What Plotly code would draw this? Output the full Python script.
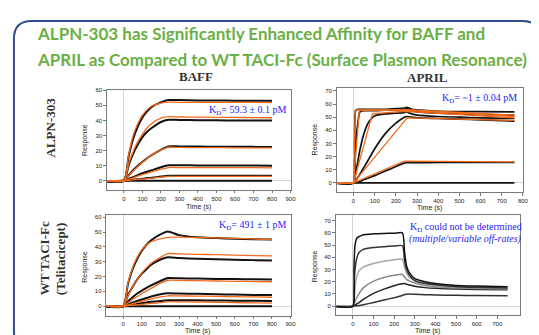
import plotly.graph_objects as go

W, H = 539, 335

# ---------------- data ----------------
# Panel 1: ALPN-303 vs BAFF
P1_T = [-90, 0, 25, 50, 75, 100, 125, 150, 200, 240, 300, 400, 500, 600, 700, 800]
P1_DATA_1 = [-0.3, 0, 16, 28, 36, 42, 46, 49, 52, 53.5, 53.5, 53.3, 53.2, 53.1, 53, 53]
P1_DATA_2 = [-0.3, 0, 10, 18, 24, 29, 32.5, 35, 39, 40.5, 40.3, 40.2, 40.1, 40, 40, 40]
P1_DATA_3 = [-0.3, 0, 3.5, 7, 10, 12.5, 15, 17, 20.5, 22.8, 22.8, 22.7, 22.6, 22.5, 22.5, 22.4]
P1_DATA_4 = [-0.3, 0, 1.2, 2.5, 3.8, 5, 6, 7, 9, 10.3, 10.3, 10.2, 10.2, 10.1, 10.1, 10]
P1_DATA_5 = [-0.3, 0, 0.3, 0.7, 1, 1.4, 1.8, 2.1, 2.8, 3.3, 3.4, 3.4, 3.4, 3.4, 3.4, 3.4]
P1_DATA_0 = [-0.3, 0, 0, 0, 0, 0, 0, 0, 0, 0, 0, 0, 0, 0, 0, 0]
P1_FIT_1 = [0, 0, 17, 30, 38, 43.5, 47, 49.5, 51.5, 52.2, 52, 52, 52, 52, 52, 51.8]
P1_FIT_2 = [0, 0, 11, 19.5, 26, 31, 35, 38, 41.5, 42.5, 42.3, 42.2, 42.1, 42, 41.9, 41.8]
P1_FIT_3 = [0, 0, 3.3, 6.5, 9.5, 12.3, 14.8, 17, 20.3, 22.3, 22.1, 22, 22, 21.9, 21.8, 21.8]
P1_FIT_4 = [0, 0, 1, 2, 3.1, 4.1, 5, 6, 7.7, 8.8, 8.8, 8.8, 8.7, 8.7, 8.7, 8.6]
P1_FIT_5 = [0, 0, 0.3, 0.6, 0.9, 1.2, 1.5, 1.8, 2.4, 2.9, 3, 3, 3, 3, 3, 3]

# Panel 2: ALPN-303 vs APRIL
P2_T = [-80, 0, 5, 10, 20, 30, 50, 75, 100, 150, 200, 240, 250, 275, 300, 400, 500, 600, 760]
P2_DATA_1 = [-0.3, 0, 30, 55, 56, 56, 56, 56, 56, 56, 56.5, 57, 57.5, 56, 55.5, 54.5, 54.3, 54.2, 54]
P2_DATA_2 = [-0.3, 0, 15, 30, 45, 54, 55, 55, 55, 55.3, 55.5, 55.8, 56.5, 55, 54, 53, 52.5, 52, 51.5]
P2_DATA_3 = [-0.3, 0, 3, 7, 16, 25, 38, 47, 51, 52.5, 53, 53.5, 54, 52.5, 51.5, 50.5, 50, 49.5, 49]
P2_DATA_4 = [-0.3, 0, 0.8, 1.8, 4, 6.5, 12, 19, 26, 37.5, 45.5, 50, 50.5, 50, 49.5, 49, 48.5, 48, 47]
P2_DATA_5 = [-0.3, 0, 0.1, 0.3, 0.6, 1, 2.5, 4, 5.5, 9, 12.5, 15, 15.3, 15.3, 15.4, 15.5, 15.5, 15.5, 15.5]
P2_DATA_0 = [-0.3, 0, 0, 0, 0, 0, 0, 0, 0, 0, 0, 0, 0, 0, 0, 0, 0, 0, 0]
P2_FIT_1_T = [-80, 0, 8, 240, 250, 760]
P2_FIT_1 = [0, 0, 55.5, 56, 55.8, 51.5]
P2_FIT_2_T = [-80, 0, 27, 240, 760]
P2_FIT_2 = [0, 0, 55, 55.5, 50.5]
P2_FIT_3_T = [-80, 0, 89, 240, 760]
P2_FIT_3 = [0, 0, 52.5, 54.5, 49.5]
P2_FIT_4_T = [-80, 0, 253, 760]
P2_FIT_4 = [0, 0, 49.5, 47.5]
P2_FIT_5_T = [-80, 0, 240, 760]
P2_FIT_5 = [0, 0, 16.5, 16]

# Panel 3: WT TACI-Fc vs BAFF
P3_T = P1_T
P3_DATA_1 = [-0.3, 0, 15, 25, 32, 37.5, 41.5, 44.5, 48.5, 50.5, 48, 46.5, 46, 45.5, 45.2, 45]
P3_DATA_2 = [-0.3, 0, 7.5, 13, 18, 22, 25, 28, 31.5, 33, 32.5, 32, 31.7, 31.4, 31.1, 30.8]
P3_DATA_3 = [-0.3, 0, 3.2, 6, 8.5, 10.5, 12.3, 14, 17, 19, 18.8, 18.6, 18.4, 18.3, 18.1, 18]
P3_DATA_4 = [-0.3, 0, 1.2, 2.5, 3.5, 4.5, 5.5, 6.5, 8, 8.7, 8.5, 8.3, 8, 7.8, 7.6, 7.5]
P3_DATA_5 = [-0.3, 0, 0.5, 1, 1.5, 2, 2.5, 2.9, 3.5, 4, 4, 3.9, 3.8, 3.7, 3.6, 3.5]
P3_DATA_0 = P1_DATA_0
P3_FIT_1 = [0, 0, 15.5, 26, 33, 38, 41.5, 43.5, 45.5, 46.5, 46.6, 46.4, 46.1, 45.8, 45.4, 45]
P3_FIT_2 = [0, 0, 7, 13, 18, 22.5, 26, 29, 33, 35.5, 35.3, 35, 34.8, 34.5, 34.2, 34]
P3_FIT_3 = [0, 0, 2.2, 4.5, 6.5, 8.5, 10.3, 12, 15.5, 17.5, 17.4, 17.2, 17, 16.8, 16.6, 16.5]
P3_FIT_4 = [0, 0, 0.8, 1.7, 2.5, 3.3, 4, 4.8, 6.2, 7, 6.9, 6.8, 6.6, 6.4, 6.2, 6]
P3_FIT_5 = [0, 0, 0.3, 0.6, 0.9, 1.2, 1.5, 1.8, 2.4, 3, 2.9, 2.8, 2.6, 2.4, 2.2, 2]

# Panel 4: WT TACI-Fc vs APRIL
P4_T = [-80, 0, 5, 10, 20, 30, 50, 100, 150, 200, 240, 250, 260, 275, 300, 350, 400, 500, 600, 750]
P4_DATA_1 = [-0.3, 0, 30, 50, 56, 57, 58.5, 59.2, 59.5, 59.7, 60, 45, 33, 27, 22.5, 20, 18.5, 17, 16.5, 16]
P4_DATA_2 = [-0.3, 0, 15, 30, 40, 44, 46.5, 48, 48.7, 49.2, 49.5, 38, 30, 25, 21, 18.5, 17.5, 16, 15.5, 15]
P4_DATA_3 = [-0.3, 0, 8, 16, 25, 29, 32, 35, 36.8, 38, 38.5, 32, 27, 23.5, 21, 19, 17.5, 16, 15.5, 15]
P4_DATA_4 = [-0.3, 0, 2, 4, 7.5, 10.5, 15, 20.5, 23.5, 25.3, 26, 24, 22, 20.5, 19, 17, 16, 15, 14.5, 14]
P4_DATA_5 = [-0.3, 0, 0.5, 1, 2, 3, 5.5, 10.5, 14, 16.8, 18.3, 18.5, 18, 17.3, 16.3, 15.2, 14.6, 14, 13.7, 13.5]
P4_DATA_6 = [-0.3, 0, 0.1, 0.2, 0.4, 0.6, 1.2, 3, 5, 7, 8.8, 9.5, 9.8, 9.9, 9.7, 9.4, 9.2, 8.9, 8.7, 8.5]

P1_XTICKS = [0, 100, 200, 300, 400, 500, 600, 700, 800, 900]
P2_XTICKS = [0, 100, 200, 300, 400, 500, 600, 700, 800]
P4_XTICKS = [0, 100, 200, 300, 400, 500, 600, 700]
Y60_TICKS = [0, 10, 20, 30, 40, 50, 60]
Y70_TICKS = [0, 10, 20, 30, 40, 50, 60, 70]

TITLE_1 = "ALPN-303 has Significantly Enhanced Affinity for BAFF and"
TITLE_2 = "APRIL as Compared to WT TACI-Fc (Surface Plasmon Resonance)"
KD_1 = "K<sub>D</sub>= 59.3 ± 0.1 pM"
KD_2 = "K<sub>D</sub>= ~1 ± 0.04 pM"
KD_3 = "K<sub>D</sub>= 491 ± 1 pM"
KD_4A = "K<sub>D</sub> could not be determined"
KD_4B = "<i>(multiple/variable off-rates)</i>"

# ---------------- helpers ----------------
def px(x):
    return x / W

def py(y):
    return 1 - y / H

BLACK = "#111111"
ORANGE = "#F26B1D"
BLUE = "#2424F0"
GREEN = "#6BAF45"
SANS = "Liberation Sans, Arial, sans-serif"
SERIF = "Liberation Serif, Times New Roman, serif"

fig = go.Figure()

def add(t, y, ax, color, width):
    fig.add_trace(go.Scatter(x=t, y=y, mode="lines", xaxis="x" + ax, yaxis="y" + ax,
                             line=dict(color=color, width=width, shape="spline", smoothing=0.6),
                             hoverinfo="skip", showlegend=False))

def addlin(t, y, ax, color, width):
    fig.add_trace(go.Scatter(x=t, y=y, mode="lines", xaxis="x" + ax, yaxis="y" + ax,
                             line=dict(color=color, width=width),
                             hoverinfo="skip", showlegend=False))

# Panel 1
for d in [P1_DATA_0, P1_DATA_1, P1_DATA_2, P1_DATA_3, P1_DATA_4, P1_DATA_5]:
    add(P1_T, d, "", BLACK, 2.0)
for f in [P1_FIT_1, P1_FIT_2, P1_FIT_3, P1_FIT_4, P1_FIT_5]:
    add(P1_T, f, "", ORANGE, 1.3)

# Panel 2
for d in [P2_DATA_0, P2_DATA_1, P2_DATA_2, P2_DATA_3, P2_DATA_4, P2_DATA_5]:
    add(P2_T, d, "2", BLACK, 1.7)
for t, f in [(P2_FIT_1_T, P2_FIT_1), (P2_FIT_2_T, P2_FIT_2), (P2_FIT_3_T, P2_FIT_3),
             (P2_FIT_4_T, P2_FIT_4), (P2_FIT_5_T, P2_FIT_5)]:
    addlin(t, f, "2", ORANGE, 1.3)

# Panel 3
for d in [P3_DATA_0, P3_DATA_1, P3_DATA_2, P3_DATA_3, P3_DATA_4, P3_DATA_5]:
    add(P3_T, d, "3", BLACK, 2.0)
for f in [P3_FIT_1, P3_FIT_2, P3_FIT_3, P3_FIT_4, P3_FIT_5]:
    add(P3_T, f, "3", ORANGE, 1.3)

# Panel 4
for d, c in [(P4_DATA_6, "#333333"), (P4_DATA_5, "#222222"), (P4_DATA_4, "#8a8a8a"),
             (P4_DATA_3, "#a8a8a8"), (P4_DATA_2, "#333333"), (P4_DATA_1, "#111111")]:
    add(P4_T, d, "4", c, 1.5)

axis_common = dict(showline=True, mirror=True, linecolor="#7a7a7a", linewidth=1,
                   ticks="outside", ticklen=2.5, tickcolor="#7a7a7a", tickwidth=1,
                   showgrid=False, zeroline=True, zerolinecolor="#d4d4d4", zerolinewidth=1,
                   tickfont=dict(family=SANS, size=6, color="#222222"), fixedrange=True)

layout = dict(width=W, height=H, margin=dict(l=0, r=0, t=0, b=0),
              paper_bgcolor="white", plot_bgcolor="white", showlegend=False)

layout["xaxis"] = dict(axis_common, domain=[px(100), px(285.7)], range=[-92, 900],
                       tickvals=P1_XTICKS, anchor="y")
layout["yaxis"] = dict(axis_common, domain=[py(180.5), py(80)], range=[-6, 60],
                       tickvals=Y60_TICKS, anchor="x")
layout["xaxis2"] = dict(axis_common, domain=[px(332.3), px(520.7)], range=[-80, 800],
                        tickvals=P2_XTICKS, anchor="y2")
layout["yaxis2"] = dict(axis_common, domain=[py(182.7), py(77.3)], range=[-7, 72.5],
                        tickvals=Y70_TICKS, anchor="x2")
layout["xaxis3"] = dict(axis_common, domain=[px(99.3), px(285.7)], range=[-92, 900],
                        tickvals=P1_XTICKS, anchor="y3")
layout["yaxis3"] = dict(axis_common, domain=[py(307.5), py(206)], range=[-6.5, 61.5],
                        tickvals=Y60_TICKS, anchor="x3")
layout["xaxis4"] = dict(axis_common, domain=[px(331.3), px(517.3)], range=[-84, 808],
                        tickvals=P4_XTICKS, anchor="y4")
layout["yaxis4"] = dict(axis_common, domain=[py(307), py(206)], range=[-7.4, 74.5],
                        tickvals=Y70_TICKS, anchor="x4")

ann = []
def text(x, y, s, size, color="#000000", family=SANS, xanchor="center", angle=0, bold=False):
    ann.append(dict(x=px(x), y=py(y), xref="paper", yref="paper", text=("<b>%s</b>" % s) if bold else s,
                    showarrow=False, xanchor=xanchor, yanchor="middle", textangle=angle,
                    font=dict(family=family, size=size, color=color)))

text(27, 23, TITLE_1, 17, GREEN, "Lato, Open Sans, sans-serif", "left", bold=True)
text(27, 49, TITLE_2, 17, GREEN, "Lato, Open Sans, sans-serif", "left", bold=True)
text(190, 66, "BAFF", 13, "#333333", SERIF, bold=True)
text(424, 67, "APRIL", 13, "#333333", SERIF, bold=True)
text(43, 118, "ALPN-303", 13, "#333333", SERIF, angle=-90, bold=True)
text(37, 250, "WT TACI-Fc", 13, "#333333", SERIF, angle=-90, bold=True)
text(53, 250, "(Telitacicept)", 13, "#333333", SERIF, angle=-90, bold=True)

for (x, y) in [(78, 130), (310, 130), (78, 258), (310, 258)]:
    text(x, y, "Response", 7, "#222222", SANS, angle=-90)
for (x, y) in [(193, 198), (426, 199), (192, 323), (424, 323)]:
    text(x, y, "Time (s)", 7, "#222222", SANS)

text(283, 100, KD_1, 10, BLUE, SERIF, "right")
text(517, 88, KD_2, 10, BLUE, SERIF, "right")
text(283, 216, KD_3, 10, BLUE, SERIF, "right")
text(463, 218, KD_4A, 10, BLUE, SERIF)
text(463, 230, KD_4B, 10, BLUE, SERIF)
layout["annotations"] = ann

# rounded slide border
x0, x1, y0, y1, r = 6, 538, 10, 341, 18
path = (f"M {px(x0+r)},{py(y0)} L {px(x1-r)},{py(y0)} Q {px(x1)},{py(y0)} {px(x1)},{py(y0+r)} "
        f"L {px(x1)},{py(y1-r)} Q {px(x1)},{py(y1)} {px(x1-r)},{py(y1)} "
        f"L {px(x0+r)},{py(y1)} Q {px(x0)},{py(y1)} {px(x0)},{py(y1-r)} "
        f"L {px(x0)},{py(y0+r)} Q {px(x0)},{py(y0)} {px(x0+r)},{py(y0)} Z")
layout["shapes"] = [dict(type="path", path=path, xref="paper", yref="paper",
                         line=dict(color="#2F4E8E", width=2), layer="above")]

fig.update_layout(**layout)
fig.write_html("out.html")
